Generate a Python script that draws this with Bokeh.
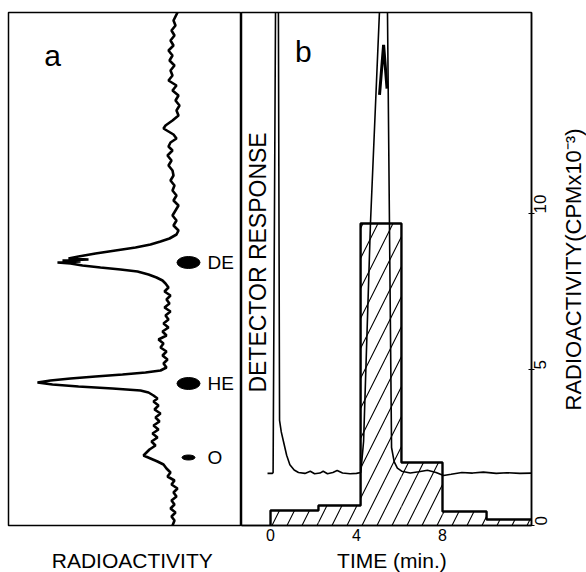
import math
from bokeh.plotting import figure
from bokeh.layouts import row, column
from bokeh.models import Range1d, FixedTicker, Label
from bokeh.embed import file_html
from bokeh.resources import INLINE
from bokeh.core.properties import value

FONT = "Liberation Sans"

# ---------------- panel a: radiochromatogram scan ----------------
scan_position = [513, 505, 500, 495, 490, 485, 480, 475, 470, 465, 460, 455, 450, 445, 440, 435, 430,
                 425, 420, 415, 410, 405, 400, 397, 394, 391, 387, 383, 379, 375, 370, 365, 360, 355,
                 350, 345, 340, 335, 330, 325, 320, 315, 310, 305, 300, 295, 291, 287, 284, 281, 278,
                 275, 272, 269, 267, 266, 265, 264, 263, 262, 260, 258, 256, 254, 251, 248, 245, 242,
                 238, 234, 230, 226, 222, 218, 214, 210, 206, 202, 198, 194, 190, 186, 182, 178, 174,
                 170, 166, 162, 158, 155, 153, 151, 149, 147, 145, 143, 141, 139, 137, 135, 133, 130,
                 127, 124, 120, 116, 112, 108, 104, 100, 96, 92, 88, 84, 80, 76, 73, 70, 67, 64, 61,
                 57, 53, 49, 45, 41, 37, 33, 29, 25, 21, 17, 13, 9, 5, 0]
scan_counts = [64, 68, 66, 70, 67, 71, 68, 73, 69, 72, 67, 71, 69, 73, 65, 69, 63,
               66, 62, 65, 63, 69, 76, 78, 73, 68, 65, 71, 73, 69, 74, 70, 73, 69,
               68, 71, 67, 69, 65, 68, 63, 66, 69, 65, 68, 63, 65, 72, 81, 91, 106,
               126, 146, 163, 173, 153, 179, 161, 184, 171, 159, 141, 121, 104, 93, 85, 79, 76,
               73, 77, 71, 75, 72, 77, 71, 76, 73, 78, 73, 79, 75, 83, 78, 81, 75,
               79, 74, 78, 75, 81, 96, 119, 146, 171, 191, 204, 189, 163, 129, 101, 93, 88,
               84, 88, 83, 87, 81, 86, 82, 88, 83, 89, 84, 90, 86, 92, 95, 98, 91, 84, 78,
               75, 71, 74, 67, 70, 64, 68, 65, 70, 67, 71, 66, 70, 67, 69]
std_names = ["DE", "HE", "O"]
std_position = [263, 142, 68]
std_lane = [53, 53, 53]
std_width = [23, 23, 13]
std_height = [12, 12, 5]

# ---------------- panel b: HPLC ----------------
frac_edges = [0, 2.23, 4.19, 6.09, 8.0, 10.05, 12.14]
frac_cpm = [0.48, 0.64, 9.68, 2.02, 0.45, 0.19]
det_time = [-0.14, 0.09, 0.12, 0.32, 0.42, 0.5, 0.6, 0.75, 0.9, 1.1, 1.3, 1.6, 1.85, 2.05, 2.3,
            2.45, 2.65, 2.9, 3.1, 3.35, 3.7, 4.0, 4.2, 4.33, 4.65, 5.07, 5.37, 5.44, 5.63, 5.75,
            5.9, 6.1, 6.5, 6.9, 7.3, 7.7, 8.05, 8.4, 8.9, 9.4, 9.9, 10.5, 11.0, 11.6, 12.14]
det_resp = [1.67, 1.67, 1.7, 28.0, 3.37, 3.0, 2.7, 2.25, 1.95, 1.78, 1.7, 1.67, 1.74, 1.66, 1.68,
            1.74, 1.66, 1.7, 1.76, 1.68, 1.66, 1.67, 1.7, 2.7, 9.7, 16.5, 21.4, 16.5, 2.5, 2.05,
            1.84, 1.74, 1.68, 1.72, 1.77, 1.7, 1.6, 1.64, 1.7, 1.68, 1.71, 1.67, 1.69, 1.67, 1.68]
det_cap_time = [5.07, 5.26, 5.42]
det_cap_resp = [13.8, 15.4, 14.0]
x_ticks = [0, 4, 8]
y_ticks = [0, 5, 10]
x_title_a = "RADIOACTIVITY"
x_title_b = "TIME (min.)"
y_title = "RADIOACTIVITY(CPMx10\u207b\u00b3)"


def strip(width, height):
    s = figure(width=width, height=height, x_range=Range1d(0, width), y_range=Range1d(0, height),
               x_axis_location=None, y_axis_location=None,
               output_backend="svg", toolbar_location=None, min_border=0)
    s.grid.visible = False
    s.outline_line_color = None
    return s


# ================= panel a figure =================
pa = figure(width=241, height=547, x_range=Range1d(233, 0), y_range=Range1d(0, 513),
            x_axis_location=None, y_axis_location=None,
            output_backend="svg", toolbar_location=None,
            min_border_left=8, min_border_right=0, min_border_top=12, min_border_bottom=22)
pa.grid.visible = False
pa.outline_line_color = "black"
pa.outline_line_width = 1.5

pa.line(scan_counts, scan_position, line_color="black", line_width=2.6)
pa.ellipse(x=std_lane, y=std_position, width=std_width, height=std_height,
           fill_color="black", line_color="black")
pa.text(x=[s - 19 for s in std_lane], y=std_position, text=std_names,
        text_font=value(FONT), text_font_size="19px", text_align="left",
        text_baseline="middle", text_color="black")
pa.add_layout(Label(x=189, y=470, text="a", text_font=FONT, text_font_size="30px",
                    text_align="center", text_baseline="middle", text_color="black"))

sa = strip(241, 25)
sa.add_layout(Label(x=128, y=12.5, text=x_title_a, text_font=FONT, text_font_size="21px",
                    text_align="center", text_baseline="middle", text_color="black"))

# ================= panel b figure =================
pb = figure(width=320, height=547, x_range=Range1d(-1.35, 12.14), y_range=Range1d(0, 16.44),
            x_axis_location="below", y_axis_location="right",
            output_backend="svg", toolbar_location=None,
            min_border_left=0, min_border_right=30, min_border_top=12, min_border_bottom=22)
pb.grid.visible = False
pb.outline_line_color = "black"
pb.outline_line_width = 1.5

xb = pb.xaxis[0]
xb.ticker = FixedTicker(ticks=x_ticks)
xb.major_tick_in = 0
xb.major_tick_out = 0
xb.minor_tick_line_color = None
xb.axis_line_width = 1.5
xb.major_label_text_font = FONT
xb.major_label_text_font_size = "16px"
xb.major_label_text_color = "black"
xb.major_label_standoff = 3

yb = pb.yaxis[0]
yb.ticker = FixedTicker(ticks=y_ticks)
yb.major_tick_in = 3
yb.major_tick_out = 3
yb.minor_tick_line_color = None
yb.axis_line_width = 1.5
yb.major_label_orientation = math.pi / 2
yb.major_label_text_font = FONT
yb.major_label_text_font_size = "17px"
yb.major_label_text_color = "black"
yb.major_label_standoff = 6

pb.quad(left=frac_edges[:-1], right=frac_edges[1:], bottom=0, top=frac_cpm,
        fill_color=None, line_color=None, hatch_pattern="/", hatch_color="black",
        hatch_scale=30, hatch_weight=1.1)

step_x = [frac_edges[0]]
step_y = [0]
for i, h in enumerate(frac_cpm):
    step_x += [frac_edges[i], frac_edges[i + 1]]
    step_y += [h, h]
pb.line(step_x, step_y, line_color="black", line_width=2.4)

pb.line(det_time, det_resp, line_color="black", line_width=1.6)
pb.line(det_cap_time, det_cap_resp, line_color="black", line_width=3)

pb.add_layout(Label(x=1.53, y=15.2, text="b", text_font=FONT, text_font_size="30px",
                    text_align="center", text_baseline="middle", text_color="black"))
pb.add_layout(Label(x=-0.6, y=8.43, text="DETECTOR RESPONSE", angle=math.pi / 2,
                    text_font=FONT, text_font_size="23px", text_align="center",
                    text_baseline="middle", text_color="black"))

sb = strip(320, 25)
sb.add_layout(Label(x=166, y=12.5, text=x_title_b, text_font=FONT, text_font_size="21px",
                    text_align="center", text_baseline="middle", text_color="black"))

# ================= right-hand axis title strip =================
pc = strip(25, 572)
pc.add_layout(Label(x=12, y=303, text=y_title, angle=math.pi / 2,
                    text_font=FONT, text_font_size="22px", text_align="center",
                    text_baseline="middle", text_color="black"))

layout = row(column(pa, sa), column(pb, sb), pc)
open("out.html", "w").write(file_html(layout, INLINE))
